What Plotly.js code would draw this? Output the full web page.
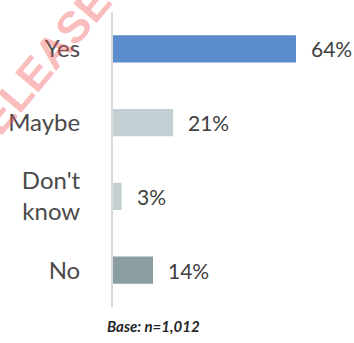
<!DOCTYPE html>
<html><head><meta charset="utf-8">
<script src="https://cdn.plot.ly/plotly-3.0.1.min.js"></script>
<style>html,body{margin:0;padding:0;background:#fff}#c{width:354px;height:343px}</style>
</head><body><div id="c"></div>
<script>
const categories = ["Yes", "Maybe", "Don't<br>know", "No"];
const values = [64, 21, 3, 14];
const valueLabels = ["64%", "21%", "3%", "14%"];
const barColors = ["#5B8CCB", "#C3CFD2", "#C3CFD2", "#8A9EA2"];
const baseNote = "Base: n=1,012";
const watermark = "RELEASE";

const trace = {
  type: 'bar', orientation: 'h',
  x: values, y: categories,
  marker: {color: barColors},
  width: 0.37,
  hoverinfo: 'none'
};
const annotations = values.map((v, i) => ({
  x: v, y: categories[i], xref: 'x', yref: 'y',
  text: valueLabels[i], showarrow: false, xanchor: 'left', xshift: 13,
  font: {family: 'Lato, "Open Sans", sans-serif', size: 21, color: '#404040'}
}));
annotations.push({
  xref: 'paper', yref: 'paper', x: 0.166, y: -0.064, xanchor: 'center', yanchor: 'middle',
  text: '<b><i>' + baseNote + '</i></b>', showarrow: false,
  font: {family: 'Lato, "Open Sans", sans-serif', size: 15, color: '#262626'}
});
annotations.push({
  xref: 'paper', yref: 'paper', x: -0.325, y: 0.795, xanchor: 'center', yanchor: 'middle',
  text: '<b>' + watermark + '</b>', showarrow: false, textangle: -50,
  font: {family: '"Liberation Sans", Arial, sans-serif', size: 44, color: 'rgba(240,80,80,0.4)'}
});

const layout = {
  width: 354, height: 343,
  margin: {l: 113, r: 0, t: 12, b: 36},
  paper_bgcolor: '#fff', plot_bgcolor: '#fff',
  showlegend: false,
  xaxis: {range: [0, 84.3], showgrid: false, zeroline: false, showticklabels: false, showline: false, fixedrange: true},
  yaxis: {autorange: 'reversed', showgrid: false, zeroline: false, showline: true, linecolor: '#D9D9D9', linewidth: 2,
          ticks: '', ticklabelstandoff: 26,
          tickfont: {family: 'Lato, "Open Sans", sans-serif', size: 24, color: '#4a4a4a'}, fixedrange: true},
  annotations: annotations
};
Plotly.newPlot('c', [trace], layout, {displayModeBar: false, staticPlot: true});
</script></body></html>
